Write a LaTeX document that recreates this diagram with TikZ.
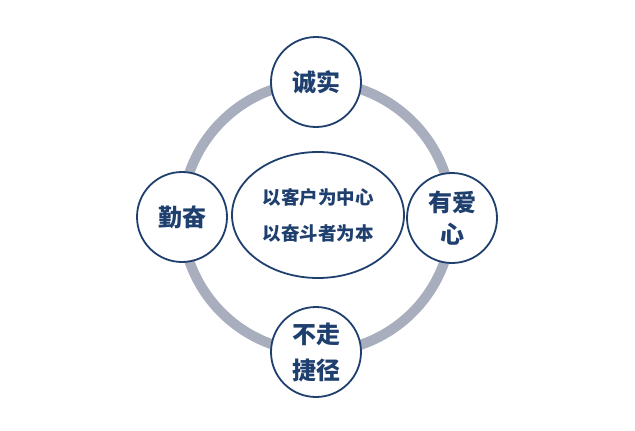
\documentclass[tikz,border=0pt]{standalone}
\usepackage{fontspec}
\usetikzlibrary{shapes.geometric}
\newfontfamily\cjk{Noto Sans CJK SC}
\definecolor{navy}{HTML}{1F3F6E}
\definecolor{ringgray}{HTML}{A8AEBE}
\begin{document}
\begin{tikzpicture}[x=1pt,y=-1pt,
  petal/.style={circle,draw=navy,line width=1.8pt,fill=white,minimum size=90pt,inner sep=0pt,
    text=navy,font=\cjk\bfseries\fontsize{24}{32}\selectfont,align=center},
  hub/.style={ellipse,draw=navy,line width=1.8pt,fill=white,minimum width=172pt,minimum height=126pt,
    inner sep=0pt,text=navy,font=\cjk\bfseries\fontsize{18.5}{36}\selectfont,align=center}]
\useasboundingbox (0,0) rectangle (635,431);
\fill[white] (0,0) rectangle (635,431);
\coordinate (c) at (317,217);
\draw[ringgray,line width=10pt] (c) circle[radius=135];
\node[petal] (top) at (316,82) {诚实};
\node[petal] (left) at (182,217) {勤奋};
\node[petal] (right) at (452,218) {有爱\\心};
\node[petal,font=\cjk\bfseries\fontsize{24}{36}\selectfont] (bottom) at (316,352) {不走\\捷径};
\node[hub] (hub) at (318,215) {以客户为中心\\以奋斗者为本};
\end{tikzpicture}
\end{document}
